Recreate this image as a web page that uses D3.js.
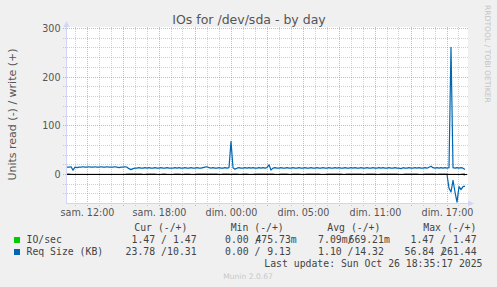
<!DOCTYPE html>
<html>
<head>
<meta charset="utf-8">
<script src="https://cdn.jsdelivr.net/npm/d3@7"></script>
<style>
  body { margin: 0; background: #F0F0F0; }
  svg { display: block; }
  text { font-family: "DejaVu Sans", sans-serif; fill: #555; }
  .mono { font-family: "DejaVu Sans Mono", monospace; font-size: 9.8px; fill: #444; white-space: pre; }
</style>
</head>
<body>
<svg id="chart" width="497" height="287"></svg>
<script>
// rrd data, one value every 10 minutes from startTime
var startTime = Date.UTC(2025, 9, 25, 8, 20);
var endTime = Date.UTC(2025, 9, 26, 17, 40);
var stepMinutes = 10;

// Req Size (KB), write (+)
var reqWrite = [
  15, 15, 16, 9, 15, 14, 15, 15, 16, 15,
  15, 16, 15, 15, 16, 15, 15, 16, 15, 15,
  16, 15, 15, 15, 16, 15, 14, 15, 15, 16,
  15, 12, 10, 12, 13, 13, 14, 13, 13, 14,
  13, 14, 13, 13, 14, 13, 13, 14, 13, 13,
  14, 13, 13, 13, 14, 13, 14, 13, 13, 14,
  13, 13, 14, 13, 13, 14, 13, 13, 14, 15,
  16, 14, 13, 14, 13, 13, 14, 13, 13, 14,
  13, 14, 68, 14, 11, 13, 14, 13, 13, 14,
  13, 14, 13, 14, 13, 13, 14, 13, 14, 13,
  14, 20, 9.13, 13, 14, 13, 13, 14, 13, 13,
  14, 13, 13, 14, 13, 13, 14, 13, 13, 14,
  13, 13, 14, 13, 13, 14, 13, 13, 14, 13,
  13, 14, 13, 13, 14, 13, 14, 13, 13, 14,
  13, 13, 14, 13, 14, 13, 13, 14, 13, 13,
  14, 13, 13, 14, 13, 13, 14, 13, 14, 13,
  13, 14, 13, 13, 14, 13, 13, 12, 14, 13,
  13, 14, 13, 13, 14, 13, 14, 13, 13, 14,
  13, 15, 17, 14, 13, 14, 13, 14, 13, 14,
  13, 14, 261.44, 14, 13, 14, 13, 14, 13, 10.31
];

// Req Size (KB), read (-)
var reqRead = [
  0, 0, 0, 0, 0, 0, 0, 0, 0, 0,
  0, 0, 0, 0, 0, 0, 0, 0, 0, 0,
  0, 0, 0, 0, 0, 0, 0, 0, 0, 0,
  0, 0, 0, 0, 0, 0, 0, 0, 0, 0,
  0, 0, 0, 0, 0, 0, 0, 0, 0, 0,
  0, 0, 0, 0, 0, 0, 0, 0, 0, 0,
  0, 0, 0, 0, 0, 0, 0, 0, 0, 0,
  0, 0, 0, 0, 0, 0, 0, 0, 0, 0,
  0, 0, 0, 0, 0, 0, 0, 0, 0, 0,
  0, 0, 0, 0, 0, 0, 0, 0, 0, 0,
  0, 0, 0, 0, 0, 0, 0, 0, 0, 0,
  0, 0, 0, 0, 0, 0, 0, 0, 0, 0,
  0, 0, 0, 0, 0, 0, 0, 0, 0, 0,
  0, 0, 0, 0, 0, 0, 0, 0, 0, 0,
  0, 0, 0, 0, 0, 0, 0, 0, 0, 0,
  0, 0, 0, 0, 0, 0, 0, 0, 0, 0,
  0, 0, 0, 0, 0, 0, 0, 0, 0, 0,
  0, 0, 0, 0, 0, 0, 0, 0, 0, 0,
  0, 0, 0, 0, 0, 0, 0, 0, 0, 0,
  0, 28, 36, 12, 36, 56.84, 25, 31, 25, 23.78
];

// IO/sec, write (+)
var ioWrite = [
  1.47, 1.47, .48, .48, .48, .48, .48, .48, .48, .48,
  .48, .48, .48, .48, .48, .48, .48, .48, .48, .48,
  .48, .48, .48, .48, .48, .48, .48, .48, .48, .48,
  1.47, 1.47, 1.47, 1.47, 1.47, 1.47, 1.47, 1.47, .48, .48,
  1.47, 1.47, 1.47, 1.47, 1.47, .48, .48, .48, 1.47, 1.47,
  .48, .48, .48, .48, 1.47, 1.47, 1.47, .48, .48, 1.47,
  1.47, 1.47, .48, .48, .48, 1.47, 1.47, 1.47, 1.47, 1.47,
  1.47, 1.47, 1.47, 1.47, 1.47, 1.47, .48, .48, 1.47, 1.47,
  1.47, 1.47, .48, 1.47, 1.47, 1.47, .48, .48, 1.47, 1.47,
  1.47, .48, .48, .48, 1.47, 1.47, 1.47, 1.47, 1.47, 1.47,
  1.47, 1.47, 1.47, 1.47, .48, .48, .48, 1.47, 1.47, 1.47,
  1.47, .48, .48, 1.47, 1.47, 1.47, 1.47, .48, .48, .48,
  1.47, 1.47, 1.47, 1.47, 1.47, 1.47, 1.47, .48, .48, .48,
  1.47, 1.47, 1.47, 1.47, 1.47, 1.47, 1.47, 1.47, .48, .48,
  1.47, 1.47, 1.47, 1.47, 1.47, 1.47, 1.47, 1.47, .48, .48,
  1.47, 1.47, 1.47, 1.47, 1.47, .48, .48, 1.47, 1.47, 1.47,
  1.47, 1.47, 1.47, 1.47, 1.47, 1.47, .48, .48, .48, 1.47,
  1.47, 1.47, 1.47, 1.47, 1.47, 1.47, .48, .48, .48, 1.47,
  1.47, 1.47, 1.47, 1.47, 1.47, .48, 1.47, 1.47, 1.47, 1.47,
  1.47, .48, .48, .48, .48, .48, .48, .48, 1.47, 1.47
];

// IO/sec, read (-)
var ioRead = [
  0, 0, 0, 0, 0, 0, 0, 0, 0, 0,
  0, 0, 0, 0, 0, 0, 0, 0, 0, 0,
  0, 0, 0, 0, 0, 0, 0, 0, 0, 0,
  0, 0, 0, 0, 0, 0, 0, 0, 0, 0,
  0, 0, 0, 0, 0, 0, 0, 0, 0, 0,
  0, 0, 0, 0, 0, 0, 0, 0, 0, 0,
  0, 0, 0, 0, 0, 0, 0, 0, 0, 0,
  0, 0, 0, 0, 0, 0, 0, 0, 0, 0,
  0, 0, 0, 0, 0, 0, 0, 0, 0, 0,
  0, 0, 0, 0, 0, 0, 0, 0, 0, 0,
  0, 0, 0, 0, 0, 0, 0, 0, 0, 0,
  0, 0, 0, 0, 0, 0, 0, 0, 0, 0,
  0, 0, 0, 0, 0, 0, 0, 0, 0, 0,
  0, 0, 0, 0, 0, 0, 0, 0, 0, 0,
  0, 0, 0, 0, 0, 0, 0, 0, 0, 0,
  0, 0, 0, 0, 0, 0, 0, 0, 0, 0,
  0, 0, 0, 0, 0, 0, 0, 0, 0, 0,
  0, 0, 0, 0, 0, 0, 0, 0, 0, 0,
  0, 0, 0, 0, 0, 0, 0, 0, 0, 0,
  0, 0, 0, 0, 0, 0, 0, 0, 0, 1.47
];

// axis ticks
var yMajorTicks = [0, 100, 200, 300];
var yMinorTicks = [-40, -20, 20, 40, 60, 80, 120, 140, 160, 180, 220, 240, 260, 280];
var xLabelTimes = [
  Date.UTC(2025, 9, 25, 10), Date.UTC(2025, 9, 25, 16), Date.UTC(2025, 9, 25, 22),
  Date.UTC(2025, 9, 26, 4), Date.UTC(2025, 9, 26, 10), Date.UTC(2025, 9, 26, 16)
];
var xLabels = ["sam. 12:00", "sam. 18:00", "dim. 00:00", "dim. 05:00", "dim. 11:00", "dim. 17:00"];

// legend
var seriesNames = ["IO/sec", "Req Size (KB)"];
var seriesColours = ["#00CC00", "#0066B3"];
var statHeaders = ["Cur (-/+)", "Min (-/+)", "Avg (-/+)", "Max (-/+)"];
var curValues = [[1.47, 1.47], [23.78, 10.31]];
var minValues = [[0, 0.47573], [0, 9.13]];
var avgValues = [[0.00709, 0.66921], [1.10, 14.32]];
var maxValues = [[1.47, 1.47], [56.84, 261.44]];
var lastUpdate = "Last update: Sun Oct 26 18:35:17 2025";

var svg = d3.select("#chart");
var plotLeft = 67, plotRight = 467, plotTop = 28.5, plotBottom = 203.7;

var xScale = d3.scaleUtc()
    .domain([startTime, endTime])
    .range([plotLeft, plotRight]);
var yScale = d3.scaleLinear()
    .domain([-60, 300])
    .range([plotBottom, plotTop]);

function crisp(v) { return Math.round(v - 0.5) + 0.5; }
function timeAt(i) { return new Date(startTime + i * stepMinutes * 60000); }

// canvas
svg.append("rect")
    .attr("x", plotLeft - 1).attr("y", 27)
    .attr("width", plotRight - plotLeft + 2).attr("height", 177)
    .attr("fill", "#FFFFFF");

// grid
var grid = svg.append("g").attr("stroke-dasharray", "1,1").attr("stroke-width", 1);
var hours = d3.utcHour.range(new Date(startTime), new Date(endTime));
grid.selectAll("line.xminor")
    .data(hours.filter(function(d) { return d.getUTCHours() % 3 !== 1; }))
    .enter().append("line")
        .attr("x1", function(d) { return crisp(xScale(d)); })
        .attr("x2", function(d) { return crisp(xScale(d)); })
        .attr("y1", 27).attr("y2", 206)
        .attr("stroke", "rgba(170,170,170,0.55)");
grid.selectAll("line.yminor")
    .data(yMinorTicks)
    .enter().append("line")
        .attr("x1", 63).attr("x2", plotRight + 2)
        .attr("y1", function(d) { return crisp(yScale(d)); })
        .attr("y2", function(d) { return crisp(yScale(d)); })
        .attr("stroke", "rgba(170,170,170,0.55)");
grid.selectAll("line.xmajor")
    .data(hours.filter(function(d) { return d.getUTCHours() % 3 === 1; }))
    .enter().append("line")
        .attr("x1", function(d) { return crisp(xScale(d)); })
        .attr("x2", function(d) { return crisp(xScale(d)); })
        .attr("y1", 27).attr("y2", 206)
        .attr("stroke", "rgba(240,110,110,0.6)");
grid.selectAll("line.ymajor")
    .data(yMajorTicks)
    .enter().append("line")
        .attr("x1", 63).attr("x2", plotRight + 2)
        .attr("y1", function(d) { return crisp(yScale(d)); })
        .attr("y2", function(d) { return crisp(yScale(d)); })
        .attr("stroke", "rgba(240,110,110,0.6)");

// axes
svg.append("line")
    .attr("x1", 66.5).attr("x2", 66.5).attr("y1", 204).attr("y2", 26)
    .attr("stroke", "#CFD6F8");
svg.append("line")
    .attr("x1", 66).attr("x2", 469).attr("y1", 203.5).attr("y2", 203.5)
    .attr("stroke", "#CFD6F8");
svg.append("path")
    .attr("d", "M63.5,27L69.5,27L66.5,21Z")
    .attr("fill", "#CFD6F8");
svg.append("path")
    .attr("d", "M468,200.5L468,206.5L474,203.5Z")
    .attr("fill", "#CFD6F8");

svg.selectAll("text.ytick")
    .data(yMajorTicks)
    .enter().append("text")
        .attr("x", 60.5)
        .attr("y", function(d) { return crisp(yScale(d)) + 3.4; })
        .attr("text-anchor", "end")
        .attr("font-size", 9.6)
        .text(function(d) { return d; });
svg.selectAll("text.xtick")
    .data(xLabelTimes)
    .enter().append("text")
        .attr("x", function(d) { return crisp(xScale(d)); })
        .attr("y", 216)
        .attr("text-anchor", "middle")
        .attr("font-size", 9.6)
        .text(function(d, i) { return xLabels[i]; });

// series lines
function drawSeries(values, colour, sign) {
    svg.append("path")
        .datum(values)
        .attr("fill", "none")
        .attr("stroke", colour)
        .attr("stroke-width", 1.2)
        .attr("stroke-linejoin", "round")
        .attr("d", d3.line()
            .x(function(d, i) { return xScale(timeAt(i)); })
            .y(function(d) { return yScale(sign * d); })
        );
}
drawSeries(ioRead, seriesColours[0], -1);
drawSeries(ioWrite, seriesColours[0], 1);
drawSeries(reqRead, seriesColours[1], -1);
drawSeries(reqWrite, seriesColours[1], 1);

// zero rule
svg.append("line")
    .attr("x1", plotLeft).attr("x2", plotRight)
    .attr("y1", crisp(yScale(0))).attr("y2", crisp(yScale(0)))
    .attr("stroke", "#000000");

// titles
svg.append("text")
    .attr("x", 249).attr("y", 24)
    .attr("text-anchor", "middle")
    .attr("font-size", 12.5)
    .text("IOs for /dev/sda - by day");
svg.append("text")
    .attr("transform", "translate(15.5,114.5) rotate(-90)")
    .attr("text-anchor", "middle")
    .attr("font-size", 11)
    .text("Units read (-) / write (+)");
svg.append("text")
    .attr("transform", "translate(485,5) rotate(90)")
    .attr("font-size", 7.6)
    .style("fill", "#c4c4c4")
    .text("RRDTOOL / TOBI OETIKER");
svg.append("text")
    .attr("x", 248).attr("y", 278.5)
    .attr("text-anchor", "middle")
    .attr("font-size", 7.6)
    .style("fill", "#c8c8c8")
    .text("Munin 2.0.67");

// legend
function fmt(v) {
    if (v !== 0 && Math.abs(v) < 1) return (v * 1000).toFixed(2) + "m";
    return v.toFixed(2) + " ";
}
var headerX = [134.3, 230.7, 327.3, 423.3];
var readEnd = [161, 254.5, 347.6, 440];
var writeEnd = [202.5, 296.7, 389.8, 482.5];
var rowY = [243.3, 255.3];
var stats = [curValues, minValues, avgValues, maxValues];

svg.selectAll("text.head")
    .data(statHeaders)
    .enter().append("text")
        .attr("class", "mono")
        .attr("x", function(d, i) { return headerX[i]; })
        .attr("y", 231)
        .text(function(d) { return d; });

seriesNames.forEach(function(name, s) {
    svg.append("rect")
        .attr("x", 14).attr("y", rowY[s] - 6.3)
        .attr("width", 6).attr("height", 6)
        .attr("fill", seriesColours[s]);
    svg.append("text")
        .attr("class", "mono")
        .attr("x", 26.5).attr("y", rowY[s])
        .text(name);
    stats.forEach(function(st, c) {
        svg.append("text")
            .attr("class", "mono")
            .attr("x", readEnd[c]).attr("y", rowY[s])
            .attr("text-anchor", "end")
            .text(fmt(st[s][0]));
        svg.append("text")
            .attr("class", "mono")
            .attr("x", readEnd[c]).attr("y", rowY[s])
            .text("/");
        svg.append("text")
            .attr("class", "mono")
            .attr("x", writeEnd[c]).attr("y", rowY[s])
            .attr("text-anchor", "end")
            .text(fmt(st[s][1]));
    });
});

svg.append("text")
    .attr("class", "mono")
    .attr("x", 482.5).attr("y", 267.3)
    .attr("text-anchor", "end")
    .text(lastUpdate);
</script>
</body>
</html>
